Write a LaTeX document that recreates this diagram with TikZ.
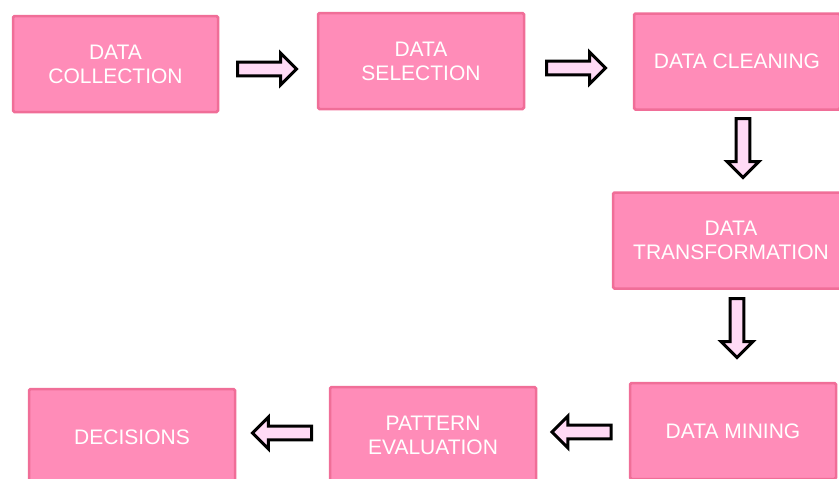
\documentclass[tikz,border=0pt]{standalone}
\usepackage{fontspec}
\setmainfont{Liberation Sans}
\usepackage{xcolor}
\usetikzlibrary{arrows.meta, positioning, calc, shapes.arrows}

\definecolor{boxpink}{HTML}{FF8CB8}
\definecolor{boxedge}{HTML}{F06E98}
\definecolor{arrowpink}{HTML}{FFDAF5}

\tikzset{
    stepbox/.style={draw=boxedge, line width=2.5pt, fill=boxpink, rounded corners=1.5pt,
        minimum height=96pt, text=white, align=center, inner sep=0pt,
        font=\fontsize{21}{24}\selectfont},
    blockarrow/.style={single arrow, draw=black, line width=3pt, fill=arrowpink,
        inner sep=5.4pt, minimum width=29.5pt, single arrow head extend=9pt,
        minimum height=59pt, outer sep=0pt, anchor=tail}
}

\begin{document}
\begin{tikzpicture}[x=1pt, y=-1pt]
    \useasboundingbox (0,0) rectangle (839,479);
    \clip (0,0) rectangle (839,479);

    % top row
    \node[stepbox, minimum width=205pt] (collect) at (115.5, 64) {DATA\\COLLECTION};
    \node[stepbox, minimum width=206pt] (select) at (421, 61) {DATA\\SELECTION};
    \node[stepbox, minimum width=206pt] (clean) at (737, 61.5) {DATA CLEANING};

    % right column
    \node[stepbox, minimum width=236pt] (transform) at (731, 240.5) {DATA\\TRANSFORMATION};
    \node[stepbox, minimum width=206pt] (mining) at (733, 431) {DATA MINING};

    % bottom row
    \node[stepbox, minimum width=206pt] (pattern) at (433, 435) {PATTERN\\EVALUATION};
    \node[stepbox, minimum width=206pt] (decide) at (132, 437) {DECISIONS};

    % arrows
    \node[blockarrow] (a1) at (237.5, 69) {};
    \node[blockarrow] (a2) at (546.5, 68) {};
    \node[blockarrow, rotate=270] (a3) at (743, 118.5) {};
    \node[blockarrow, rotate=270] (a4) at (737, 298.5) {};
    \node[blockarrow, rotate=180] (a5) at (611, 432) {};
    \node[blockarrow, rotate=180] (a6) at (311.5, 433) {};
\end{tikzpicture}
\end{document}
